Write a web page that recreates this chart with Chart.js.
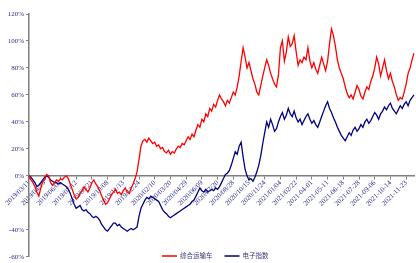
<!DOCTYPE html>
<html>
<head>
<meta charset="utf-8">
<script src="https://cdn.jsdelivr.net/npm/chart.js@4.4.0/dist/chart.umd.min.js"></script>
<style>
  body { margin: 0; background: #fff; }
  #wrap { width: 416px; height: 263px; }
</style>
</head>
<body>
<div id="wrap"><canvas id="c"></canvas></div>
<script>
// 축 라벨 (8개 점마다 하나)
const tickLabels = [
  '2019/03/11', '2019/04/19', '2019/06/03', '2019/07/12', '2019/08/21',
  '2019/10/08', '2019/11/13', '2019/12/24', '2020/02/10', '2020/03/20',
  '2020/04/29', '2020/06/09', '2020/07/20', '2020/08/28', '2020/10/15',
  '2020/11/24', '2021/01/04', '2021/02/22', '2021-04-01', '2021-05-11',
  '2021-06-18', '2021-07-28', '2021-09-06', '2021-10-14', '2021-11-23'
];
const tickEvery = 8;

const seriesNames = ['综合运输车', '电子指数'];

// 누적 수익률 (%)
const redValues = [
  0, -3, -5, -8, -12, -15, -9, -4, -3, 1,
  0, -5, -7, -5, -3, -4, -2, -3, -1, 0,
  -2, -6, -10, -14, -17, -16, -13, -11, -8, -10,
  -12, -9, -5, -3, -6, -8, -11, -15, -18, -21,
  -20, -17, -14, -12, -10, -13, -12, -14, -11, -9,
  -12, -13, -9, -6, -2, 3, 12, 22, 26, 27,
  25, 28, 26, 24, 25, 22, 23, 20, 21, 18,
  17, 19, 16, 18, 17, 20, 22, 21, 24, 23,
  26, 29, 27, 31, 29, 34, 38, 36, 42, 40,
  46, 44, 50, 48, 53, 51, 56, 60, 57, 55,
  52, 56, 54, 58, 62, 60, 66, 74, 85, 95,
  88, 80, 84, 78, 72, 68, 62, 60, 67, 74,
  80, 86, 82, 76, 72, 68, 66, 75, 95, 100,
  85, 92, 103, 96, 98, 104, 92, 82, 86, 84,
  88, 86, 95, 85, 80, 84, 79, 76, 82, 88,
  83, 78, 85, 98, 109, 104, 96, 86, 80, 76,
  72, 66, 61, 58, 60, 57, 62, 67, 64, 59,
  57, 62, 66, 64, 70, 74, 80, 88, 83, 74,
  80, 86, 78, 72, 76, 70, 66, 60, 56, 58,
  57, 62, 68, 76, 80, 86, 91
];
const blueValues = [
  0, -1, -3, -5, -8, -7, -5, -3, -1, 0,
  -1, -3, -4, -5, -5, -6, -5, -6, -7, -8,
  -10, -13, -17, -21, -24, -23, -22, -25, -26, -25,
  -27, -28, -30, -31, -30, -31, -33, -36, -38, -40,
  -41, -39, -37, -35, -35, -37, -36, -38, -39, -40,
  -41, -40, -39, -40, -39, -38, -30, -24, -21, -18,
  -16, -17, -15, -16, -17, -18, -19, -22, -25, -27,
  -28, -30, -31, -30, -29, -28, -27, -26, -25, -24,
  -23, -22, -21, -19, -18, -15, -12, -9, -11, -12,
  -10, -12, -11, -10, -11, -9, -10, -8, -5, -2,
  1, 2, 4, 8, 13, 18, 16, 22, 25, 14,
  5, 0, -3, -2, -4, -1, 3, 8, 15, 24,
  32, 40, 36, 42, 38, 33, 35, 40, 44, 47,
  42, 45, 50, 46, 44, 48, 43, 40, 42, 38,
  41, 44, 46, 42, 39, 41, 38, 36, 40, 44,
  48, 52, 55, 50, 47, 43, 40, 36, 33, 30,
  28, 26, 29, 32, 30, 34, 36, 33, 35, 38,
  36, 40, 42, 39, 41, 44, 47, 45, 42, 46,
  48, 51, 49, 52, 54, 50, 48, 46, 49, 52,
  50, 53, 55, 52, 56, 58, 60
];

const yTicks = { min: -60, max: 120, step: 20, hidden: [-20] };

// x 카테고리: 라벨 위치에는 날짜, 나머지는 빈칸
const categories = redValues.map((v, i) => i % tickEvery === 0 ? tickLabels[i / tickEvery] : '');

const axisColor = '#7f7f7f';
const labelColor = '#2e2e8a';

// 범례는 플롯 안쪽 아래에 직접 그림
const bottomLegend = {
  id: 'bottomLegend',
  afterDraw(chart) {
    const ctx = chart.ctx;
    const y = 256;
    let x = 162;
    ctx.save();
    ctx.font = '6.5px "Noto Sans CJK SC"';
    ctx.textBaseline = 'middle';
    chart.data.datasets.forEach(ds => {
      ctx.strokeStyle = ds.borderColor;
      ctx.lineWidth = 1.5;
      ctx.beginPath();
      ctx.moveTo(x, y);
      ctx.lineTo(x + 15, y);
      ctx.stroke();
      ctx.fillStyle = '#3b3b7a';
      ctx.fillText(ds.label, x + 18, y);
      x += 18 + ctx.measureText(ds.label).width + 12;
    });
    ctx.restore();
  }
};

new Chart(document.getElementById('c'), {
  type: 'line',
  data: {
    labels: categories,
    datasets: [{
      label: seriesNames[0],
      data: redValues,
      borderColor: '#ff0000',
      borderWidth: 1.3,
      pointRadius: 0,
      tension: 0
    }, {
      label: seriesNames[1],
      data: blueValues,
      borderColor: '#000080',
      borderWidth: 1.3,
      pointRadius: 0,
      tension: 0
    }]
  },
  options: {
    responsive: true,
    maintainAspectRatio: false,
    animation: false,
    layout: { padding: { top: 14, right: 2, bottom: 5, left: 0 } },
    plugins: {
      legend: { display: false },
      tooltip: { enabled: false }
    },
    scales: {
      x: {
        position: { y: 0 },
        offset: false,
        border: { display: true, color: axisColor, width: 1.5 },
        grid: { display: true, drawOnChartArea: false, drawTicks: true, tickLength: 3, color: axisColor },
        ticks: {
          autoSkip: false,
          maxRotation: 45,
          minRotation: 45,
          padding: 0,
          color: labelColor,
          font: { family: 'Liberation Serif', size: 7 },
          callback: function (v, i) {
            return i % tickEvery === 0 ? categories[i] : null;
          }
        }
      },
      y: {
        min: yTicks.min,
        max: yTicks.max,
        border: { display: true, color: axisColor, width: 1.5 },
        grid: { display: true, drawOnChartArea: false, drawTicks: true, tickLength: 3, color: axisColor },
        afterFit: function (scale) { scale.width = 29; },
        ticks: {
          stepSize: yTicks.step,
          padding: 2,
          color: labelColor,
          font: { family: 'Liberation Serif', size: 7 },
          callback: function (v) {
            return yTicks.hidden.includes(v) ? '' : v + '%';
          }
        }
      }
    }
  },
  plugins: [bottomLegend]
});
</script>
</body>
</html>
